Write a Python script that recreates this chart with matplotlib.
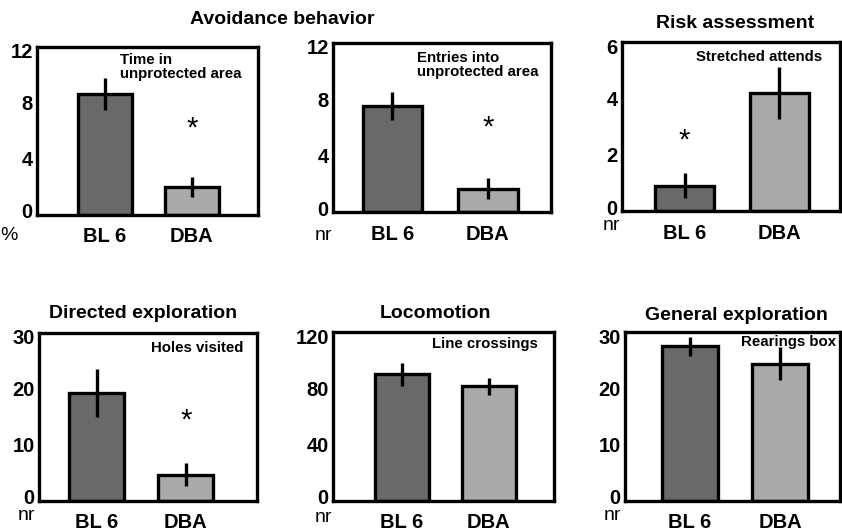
import matplotlib
matplotlib.use("Agg")
import matplotlib.pyplot as plt
from matplotlib.transforms import ScaledTranslation

plt.rcParams['font.family'] = ['Liberation Sans', 'DejaVu Sans']

# === Data (means and error bars) ===
groups = ["BL 6", "DBA"]
bar_colors = ["#696969", "#aaaaaa"]

time_unprotected = [8.65, 2.0]
time_unprotected_err = [1.15, 0.7]
entries_unprotected = [7.5, 1.65]
entries_unprotected_err = [1.0, 0.75]
stretched_attends = [0.9, 4.2]
stretched_attends_err = [0.45, 0.92]
holes_visited = [19.3, 4.7]
holes_visited_err = [4.3, 2.05]
line_crossings = [90, 81.5]
line_crossings_err = [8, 6]
rearings_box = [27.5, 24.4]
rearings_box_err = [1.7, 2.85]

# === Layout (pixels) ===
W, H = 842, 532


def px_rect(l, t, r, b):
    return [l / W, 1 - b / H, (r - l) / W, (b - t) / H]


panels = [
    dict(v=time_unprotected, e=time_unprotected_err, ymax=12, yt=[0, 4, 8, 12],
         lab="Time in\nunprotected area", unit="%", star=1, star_y=6.6,
         rect=(37, 47, 258, 215), xlim=(-0.78, 1.76), lx=0.375, ha="left", ly=0.965,
         upos=(0, 236), xpad=9),
    dict(v=entries_unprotected, e=entries_unprotected_err, ymax=12, yt=[0, 4, 8, 12],
         lab="Entries into\nunprotected area", unit="nr", star=1, star_y=6.4,
         rect=(333, 43, 551, 212), xlim=(-0.62, 1.66), lx=0.385, ha="left", ly=0.955,
         upos=(315, 236), xpad=9),
    dict(v=stretched_attends, e=stretched_attends_err, ymax=6, yt=[0, 2, 4, 6],
         lab="Stretched attends", unit="nr", star=0, star_y=2.7,
         rect=(622, 42, 840, 211), xlim=(-0.66, 1.64), lx=0.92, ha="right", ly=0.95,
         upos=(603, 226), xpad=9),
    dict(v=holes_visited, e=holes_visited_err, ymax=30, yt=[0, 10, 20, 30],
         lab="Holes visited", unit="nr", star=1, star_y=15.4,
         rect=(39, 333, 257, 501), xlim=(-0.646, 1.80), lx=0.936, ha="right", ly=0.95,
         upos=(18, 516), xpad=9),
    dict(v=line_crossings, e=line_crossings_err, ymax=120, yt=[0, 40, 80, 120],
         lab="Line crossings", unit="nr", star=None, star_y=None,
         rect=(333, 332, 554, 501), xlim=(-0.787, 1.75), lx=0.928, ha="right", ly=0.97,
         upos=(315, 517), xpad=8.5),
    dict(v=rearings_box, e=rearings_box_err, ymax=30, yt=[0, 10, 20, 30],
         lab="Rearings box", unit="nr", star=None, star_y=None,
         rect=(625, 332, 840, 501), xlim=(-0.72, 1.66), lx=0.98, ha="right", ly=0.985,
         upos=(604, 516), xpad=9),
]

titles = [
    ("Avoidance behavior", 282, 19),
    ("Risk assessment", 735, 23),
    ("Directed exploration", 143, 314),
    ("Locomotion", 435, 314),
    ("General exploration", 736, 315),
]

fig = plt.figure(figsize=(W / 100, H / 100), dpi=100)
shift_up = ScaledTranslation(0, 4 / 100, fig.dpi_scale_trans)
shift_down = ScaledTranslation(0, -4 / 100, fig.dpi_scale_trans)

for p in panels:
    ax = fig.add_axes(px_rect(*p["rect"]))
    x = list(range(len(groups)))
    ax.bar(x, p["v"], width=0.62, color=bar_colors, edgecolor="black", linewidth=2.4,
           yerr=p["e"], error_kw=dict(elinewidth=2.4, capsize=0, ecolor="black"), zorder=2)
    ax.set_xlim(*p["xlim"])
    ax.set_ylim(0, p["ymax"])
    ax.set_yticks(p["yt"])
    ax.set_xticks(x)
    ax.set_xticklabels(groups)
    ax.tick_params(axis="both", length=0, labelsize=14.5)
    ax.tick_params(axis="y", pad=3)
    ax.tick_params(axis="x", pad=p["xpad"])
    for lbl in ax.get_xticklabels() + ax.get_yticklabels():
        lbl.set_fontweight("bold")
    # bottom and top value labels are nudged inside the frame
    ylabels = ax.get_yticklabels()
    ylabels[0].set_transform(ylabels[0].get_transform() + shift_up)
    ylabels[-1].set_transform(ylabels[-1].get_transform() + shift_down)
    for s in ax.spines.values():
        s.set_linewidth(2.4)
    ax.text(p["lx"], p["ly"], p["lab"], transform=ax.transAxes, ha=p["ha"], va="top",
            fontsize=10.8, fontweight="bold", linespacing=1.0, zorder=1)
    if p["star"] is not None:
        ax.annotate("*", (p["star"], p["star_y"]), xytext=(0, -4), textcoords="offset points",
                    ha="center", va="center", fontsize=21)
    fig.text(p["upos"][0] / W, 1 - p["upos"][1] / H, p["unit"], ha="left", va="center",
             fontsize=14)

for t, cx, cy in titles:
    fig.text(cx / W, 1 - cy / H, t, ha="center", va="center", fontsize=14, fontweight="bold")

fig.savefig("out.png", dpi=100)
